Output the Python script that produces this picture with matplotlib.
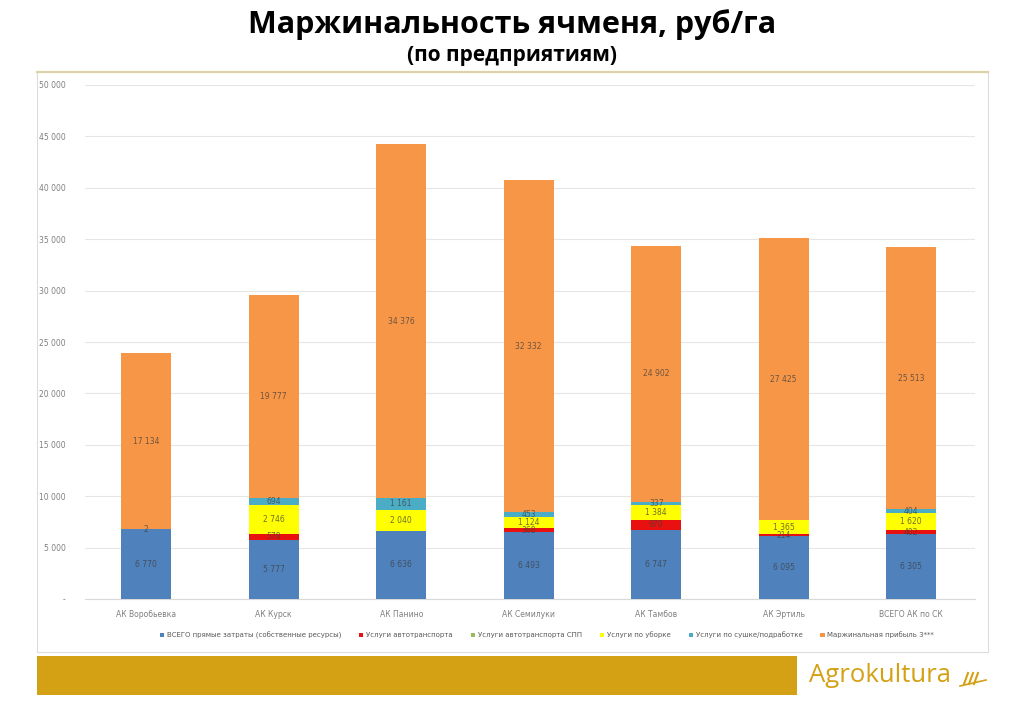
import matplotlib
matplotlib.use("Agg")
import matplotlib.pyplot as plt
from matplotlib.patches import Rectangle
from matplotlib.lines import Line2D
import numpy as np

categories = ['АК Воробьевка', 'АК Курск', 'АК Панино', 'АК Семилуки',
              'АК Тамбов', 'АК Эртиль', 'ВСЕГО АК по СК']
direct = [6770, 5777, 6636, 6493, 6747, 6095, 6305]
transport = [0, 578, 0, 368, 970, 214, 402]
transport_spp = [0, 0, 0, 0, 0, 0, 0]
harvest = [0, 2746, 2040, 1124, 1384, 1365, 1620]
drying = [2, 694, 1161, 453, 337, 0, 404]
margin = [17134, 19777, 34376, 32332, 24902, 27425, 25513]

series_names = ['ВСЕГО прямые затраты (собственные ресурсы)', 'Услуги автотранспорта',
                'Услуги автотранспорта СПП', 'Услуги по уборке',
                'Услуги по сушке/подработке', 'Маржинальная прибыль 3***']
series = [direct, transport, transport_spp, harvest, drying, margin]
colors = ['#4f81bd', '#e8110f', '#9bbb59', '#ffff00', '#4bacc6', '#f79646']

yticks = [0, 5000, 10000, 15000, 20000, 25000, 30000, 35000, 40000, 45000, 50000]

def fmt(v):
    return '-' if v == 0 else f"{v:,}".replace(",", " ")

W, H = 1024, 708
fig = plt.figure(figsize=(W/100, H/100), dpi=100)
fig.patch.set_facecolor('white')

def fx(px): return px / W
def fy(py): return 1 - py / H

# chart frame
fig.patches.append(Rectangle((fx(37), fy(652)), fx(988) - fx(37), fy(72) - fy(652),
                             transform=fig.transFigure, fill=False, ec='#dcdcdc', lw=0.8))
fig.lines.append(Line2D([fx(37), fx(988)], [fy(72), fy(72)], transform=fig.transFigure,
                        color='#ddd2a8', lw=1.6))

title_fam = ['Open Sans', 'DejaVu Sans']
fig.text(0.5, fy(25), 'Маржинальность ячменя, руб/га', ha='center', va='center',
         fontsize=22, fontweight='bold', family=title_fam)
fig.text(0.5, fy(56), '(по предприятиям)', ha='center', va='center',
         fontsize=15, fontweight='bold', family=title_fam)

ax = fig.add_axes([fx(85), fy(599), fx(975) - fx(85), fy(85) - fy(599)])
x = np.arange(len(categories))
bottom = np.zeros(len(categories))
for name, vals, col in zip(series_names, series, colors):
    vals = np.array(vals, dtype=float)
    ax.bar(x, vals, width=0.39, bottom=bottom, color=col, label=name, zorder=3)
    for xi, b, v in zip(x, bottom, vals):
        if v > 0:
            ax.text(xi, b + v / 2, fmt(int(v)), ha='center', va='center', fontsize=5.5,
                    color='#3f3f3f', alpha=0.75, zorder=4)
    bottom += vals

ax.set_xlim(-0.48, 6.5)
ax.set_ylim(0, 50000)
ax.set_yticks(yticks)
ax.set_yticklabels([fmt(v) for v in yticks], fontsize=5.5, color='#7f7f7f')
ax.set_xticks(x)
ax.set_xticklabels(categories, fontsize=5.5, color='#7f7f7f')
ax.tick_params(axis='both', length=0)
ax.tick_params(axis='y', pad=14)
ax.tick_params(axis='x', pad=8)
ax.grid(axis='y', color='#e6e6e6', lw=0.8, zorder=0)
for s in ['top', 'right', 'left']:
    ax.spines[s].set_visible(False)
ax.spines['bottom'].set_color('#d9d9d9')
ax.spines['bottom'].set_linewidth(0.8)

fig.legend(loc='center', bbox_to_anchor=(fx(547), fy(635)), ncol=6, frameon=False,
           fontsize=5, handlelength=0.6, handleheight=0.6, columnspacing=2.6,
           handletextpad=0.4, labelcolor='#595959')

# bottom banner
fig.patches.append(Rectangle((fx(37), fy(695)), fx(797) - fx(37), fy(656) - fy(695),
                             transform=fig.transFigure, color='#d4a114', lw=0))
fig.text(fx(809), fy(676), 'Agrokultura', ha='left', va='center', fontsize=18.5,
         color='#d4a114', family=['Open Sans', 'DejaVu Sans'])
# small wheat mark
for dx in (0, 5, 10):
    fig.lines.append(Line2D([fx(964 + dx), fx(968 + dx)], [fy(684), fy(673)],
                            transform=fig.transFigure, color='#d4a114', lw=1.5))
fig.lines.append(Line2D([fx(960), fx(986)], [fy(686), fy(680)],
                        transform=fig.transFigure, color='#d4a114', lw=1.2))

fig.savefig('out.png', dpi=100)
